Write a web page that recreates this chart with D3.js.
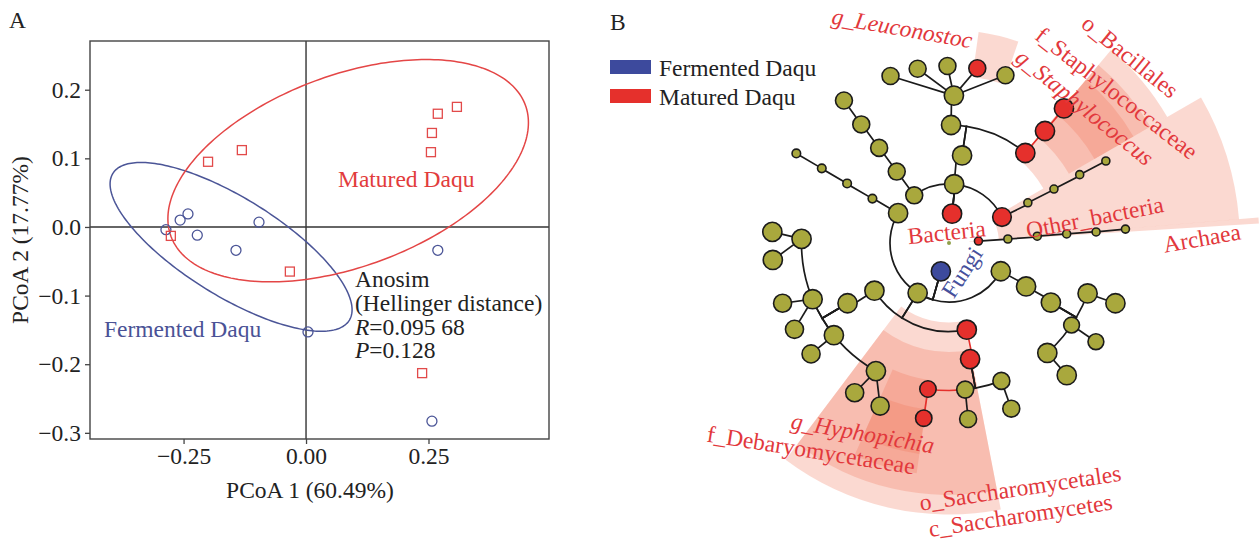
<!DOCTYPE html>
<html>
<head>
<meta charset="utf-8">
<script src="https://cdn.jsdelivr.net/npm/d3@7"></script>
<style>
  body { margin: 0; background: #fff; }
  text { font-family: "Liberation Serif", "Times New Roman", serif; }
</style>
</head>
<body>
<svg id="fig" width="1260" height="542"></svg>
<script>
// ---------- panel A: PCoA ----------
const fermentedX = [-0.286, -0.257, -0.241, -0.222, -0.143, -0.096, 0.004, 0.269, 0.257];
const fermentedY = [-0.004, 0.010, 0.019, -0.012, -0.034, 0.007, -0.153, -0.034, -0.283];
const maturedX = [-0.276, -0.200, -0.131, -0.033, 0.237, 0.255, 0.257, 0.269, 0.308];
const maturedY = [-0.013, 0.095, 0.112, -0.065, -0.213, 0.109, 0.137, 0.165, 0.175];

// confidence ellipses: centre, half extent along x / y, correlation
const ellipseCX = [-0.153, 0.086];
const ellipseCY = [-0.029, 0.082];
const ellipseSX = [0.247, 0.368];
const ellipseSY = [0.123, 0.162];
const ellipseR = [-0.745, 0.432];

const xTicks = [-0.25, 0, 0.25];
const yTicks = [-0.3, -0.2, -0.1, 0, 0.1, 0.2];
// [italic prefix, rest]
const anosimLines = [["", "Anosim"], ["", "(Hellinger distance)"], ["R", "=0.095 68"], ["P", "=0.128"]];

// ---------- panel B: cladogram ----------
const groupNames = ["Fermented Daqu", "Matured Daqu"];
// [id, parent, level, angle (deg, clockwise from top), group, size]
const cladeNodes = [
  ["root", null, 0, 0, "n", 0],
  ["Bacteria", "root", 1, 6, "M", 3],
  ["Fungi", "root", 1, 196, "F", 3],
  ["Archaea", "root", 1, 86.2, "M", 1],
  // Bacteria
  ["b1", "Bacteria", 2, 5, "n", 3],
  ["b1c", "b1", 3, 8.5, "n", 3],
  ["b1o1", "b1c", 4, 1, "n", 3],
  ["b1f1", "b1o1", 5, 1.9, "n", 3],
  ["b1g1", "b1f1", 6, -19.3, "n", 2.6],
  ["b1g2", "b1f1", 6, -10.2, "n", 2.6],
  ["b1g3", "b1f1", 6, -0.5, "n", 2.6],
  ["g_Leuconostoc", "b1f1", 6, 9.2, "M", 2.6],
  ["b1g5", "b1f1", 6, 18.6, "n", 2.6],
  ["o_Bacillales", "b1c", 4, 40.3, "M", 3],
  ["f_Staphylococcaceae", "o_Bacillales", 5, 40.6, "M", 3],
  ["g_Staphylococcus", "f_Staphylococcaceae", 6, 40.5, "M", 3],
  ["b2", "Bacteria", 2, -36.1, "n", 2.6],
  ["b2c", "b2", 3, -36.2, "n", 2.6],
  ["b2o", "b2c", 4, -36.3, "n", 2.6],
  ["b2f", "b2o", 5, -36.5, "n", 2.6],
  ["b2g", "b2f", 6, -36.4, "n", 2.6],
  ["Other_bacteria", "Bacteria", 2, 63.9, "M", 2.9],
  ["b3c", "Other_bacteria", 3, 63, "n", 1],
  ["b3o", "b3c", 4, 62.8, "n", 1],
  ["b3f", "b3o", 5, 62.4, "n", 1],
  ["b3g", "b3f", 6, 62.4, "n", 1],
  // Archaea
  ["a2", "Archaea", 2, 86.1, "n", 1],
  ["a3", "a2", 3, 85.6, "n", 1],
  ["a4", "a3", 4, 85.6, "n", 1],
  ["a5", "a4", 5, 85.7, "n", 1],
  ["a6", "a5", 6, 85.5, "n", 1],
  // Fungi
  ["f1", "Fungi", 2, 300.4, "n", 3],
  ["f1c", "f1", 3, 300.1, "n", 1.1],
  ["f1o", "f1c", 4, 300.3, "n", 1.1],
  ["f1f", "f1o", 5, 300.4, "n", 1.1],
  ["f1g", "f1f", 6, 300.4, "n", 1.1],
  ["f2", "Fungi", 2, 212.1, "n", 3],
  ["f2c1", "f2", 3, 237.4, "n", 3],
  ["f2o1", "f2c1", 4, 239.3, "n", 3],
  ["f2f1", "f2o1", 5, 271.6, "n", 3],
  ["f2g1", "f2f1", 6, 273.6, "n", 3],
  ["f2g2", "f2f1", 6, 264.5, "n", 3],
  ["f2f2", "f2o1", 5, 247.6, "n", 3],
  ["f2g3", "f2f2", 6, 250.1, "n", 2.8],
  ["f2g4", "f2f2", 6, 240.8, "n", 2.8],
  ["f2f3", "f2o1", 5, 231.3, "n", 3],
  ["f2g5", "f2f3", 6, 231.2, "n", 2.8],
  ["f2f4", "f2o1", 5, 209.7, "n", 3],
  ["f2g6", "f2f4", 6, 212.2, "n", 2.8],
  ["f2g7", "f2f4", 6, 202.9, "n", 2.8],
  ["c_Saccharomycetes", "f2", 3, 168.4, "M", 3],
  ["o_Saccharomycetales", "c_Saccharomycetes", 4, 169.7, "M", 3],
  ["f2f5", "o_Saccharomycetales", 5, 159.2, "n", 2.6],
  ["f2g8", "f2f5", 6, 159.4, "n", 2.6],
  ["f2f6", "o_Saccharomycetales", 5, 173.7, "n", 2.6],
  ["f2g9", "f2f6", 6, 173.8, "n", 2.6],
  ["f_Debaryomycetaceae", "o_Saccharomycetales", 5, 188.2, "M", 2.5],
  ["g_Hyphopichia", "f_Debaryomycetaceae", 6, 188.2, "M", 2.5],
  ["f3", "Fungi", 2, 118.6, "n", 3],
  ["f3c", "f3", 3, 119.4, "n", 3],
  ["f3o", "f3c", 4, 120.3, "n", 3],
  ["f3f1", "f3o", 5, 110, "n", 3],
  ["f3g1", "f3f1", 6, 109.9, "n", 3],
  ["f3f2", "f3o", 5, 123.8, "n", 2.4],
  ["f3g2", "f3f2", 6, 123.9, "n", 2.4],
  ["f3f3", "f3o", 5, 138.2, "n", 3],
  ["f3g3", "f3f3", 6, 138.3, "n", 3]
];

// highlighted clades: [name, level, start angle, end angle]
const highlightClades = [
  ["Archaea", 1, 85.3, 86.4],
  ["Other_bacteria", 2, 60, 85.3],
  ["o_Bacillales", 4, 40, 60],
  ["f_Staphylococcaceae", 5, 40, 60],
  ["g_Staphylococcus", 6, 40, 60],
  ["g_Leuconostoc", 6, 8, 19],
  ["c_Saccharomycetes", 3, 169, 217],
  ["o_Saccharomycetales", 4, 169, 217],
  ["f_Debaryomycetaceae", 5, 188, 204],
  ["g_Hyphopichia", 6, 188, 204]
];

// clade labels: [text, radius, angle, rotation, italic, group]
const cladeLabels = [
  ["Bacteria", 11, -13, -6, false, "M"],
  ["Fungi", 32, 156, -57, false, "F"],
  ["Other_bacteria", 148, 80, -11, false, "M"],
  ["Archaea", 253, 88.9, -10, false, "M"],
  ["g_Leuconostoc", 220, -12.3, 10, true, "M"],
  ["g_Staphylococcus", 192, 45, 39, true, "M"],
  ["f_Staphylococcaceae", 225, 48.2, 38, false, "M"],
  ["o_Bacillales", 260, 44.2, 39, false, "M"],
  ["g_Hyphopichia", 208.6, 204.4, 10, true, "M"],
  ["f_Debaryomycetaceae", 248.8, 213.7, 9, false, "M"],
  ["o_Saccharomycetales", 255, 163.8, -8.5, false, "M"],
  ["c_Saccharomycetes", 281.5, 165.3, -8.5, false, "M"]
];

const FS = "23.5px";
const svg = d3.select("#fig");

// ======== panel A ========
const box = {left: 90, right: 549, top: 41, bottom: 439};
const x = d3.scaleLinear().domain([-0.441, 0.496]).range([box.left, box.right]);
const y = d3.scaleLinear().domain([-0.309, 0.271]).range([box.bottom, box.top]);

const gA = svg.append("g");

gA.append("text").attr("x", 9).attr("y", 28).attr("font-size", FS).attr("fill", "#222").text("A");

// zero lines
gA.append("line").attr("x1", x(0)).attr("x2", x(0)).attr("y1", box.top).attr("y2", box.bottom)
  .attr("stroke", "#333").attr("stroke-width", 1.4);
gA.append("line").attr("x1", box.left).attr("x2", box.right).attr("y1", y(0)).attr("y2", y(0))
  .attr("stroke", "#333").attr("stroke-width", 1.4);

// ellipses
const ellColor = ["#4b5597", "#e44646"];
ellipseCX.forEach((cx, i) => {
  const phi = Math.asin(ellipseR[i]);
  const ts = d3.range(0, 2 * Math.PI, Math.PI / 120);
  const line = d3.line()
    .x(t => x(cx + ellipseSX[i] * Math.cos(t)))
    .y(t => y(ellipseCY[i] + ellipseSY[i] * Math.sin(t + phi)))
    .curve(d3.curveLinearClosed);
  gA.append("path").attr("d", line(ts)).attr("fill", "none")
    .attr("stroke", ellColor[i]).attr("stroke-width", 1.5);
});

// points
gA.selectAll(".ferm").data(d3.zip(fermentedX, fermentedY)).enter().append("circle")
  .attr("cx", d => x(d[0])).attr("cy", d => y(d[1])).attr("r", 5)
  .attr("fill", "none").attr("stroke", "#4b5597").attr("stroke-width", 1.3);
gA.selectAll(".mat").data(d3.zip(maturedX, maturedY)).enter().append("rect")
  .attr("x", d => x(d[0]) - 4.5).attr("y", d => y(d[1]) - 4.5).attr("width", 9).attr("height", 9)
  .attr("fill", "none").attr("stroke", "#e24a4a").attr("stroke-width", 1.3);

// frame + axes
gA.append("rect").attr("x", box.left).attr("y", box.top)
  .attr("width", box.right - box.left).attr("height", box.bottom - box.top)
  .attr("fill", "none").attr("stroke", "#444").attr("stroke-width", 1.4);

const yAxis = gA.append("g").attr("transform", `translate(${box.left},0)`)
  .call(d3.axisLeft(y).tickValues(yTicks).tickFormat(d3.format(".1f")).tickSize(5).tickPadding(4));
const xAxis = gA.append("g").attr("transform", `translate(0,${box.bottom})`)
  .call(d3.axisBottom(x).tickValues(xTicks).tickFormat(d3.format(".2f")).tickSize(5).tickPadding(3));
[xAxis, yAxis].forEach(ax => {
  ax.select(".domain").remove();
  ax.selectAll("line").attr("stroke", "#444").attr("stroke-width", 1.3);
  ax.selectAll("text").attr("font-size", FS).attr("fill", "#222")
    .attr("font-family", '"Liberation Serif", "Times New Roman", serif');
});

gA.append("text").attr("x", 310).attr("y", 498).attr("text-anchor", "middle")
  .attr("font-size", FS).attr("fill", "#222").text("PCoA 1 (60.49%)");
gA.append("text").attr("transform", "translate(28,240) rotate(-90)").attr("text-anchor", "middle")
  .attr("font-size", FS).attr("fill", "#222").text("PCoA 2 (17.77%)");

gA.append("text").attr("x", 338).attr("y", 187).attr("font-size", FS).attr("fill", "#e23c3c").text("Matured Daqu");
gA.append("text").attr("x", 104).attr("y", 337).attr("font-size", FS).attr("fill", "#4a5296").text("Fermented Daqu");

// Anosim block: italic letter and the rest as separate texts
const anosimY = [287, 311, 335, 358];
anosimLines.forEach((s, i) => {
  let xx = 355;
  if (s[0]) {
    const it = gA.append("text").attr("x", xx).attr("y", anosimY[i]).attr("font-size", FS)
      .attr("font-style", "italic").attr("fill", "#222").text(s[0]);
    xx += it.node().getComputedTextLength();
  }
  gA.append("text").attr("x", xx).attr("y", anosimY[i]).attr("font-size", FS)
    .attr("fill", "#222").text(s[1]);
});

// ======== panel B ========
const gB = svg.append("g");
const C = {x: 949, y: 243};
const ring = d3.scaleLinear().domain([0, 6]).range([0, 177]);
const ang = d3.scaleLinear().domain([0, 360]).range([-Math.PI / 2, 1.5 * Math.PI]); // screen angle
const rad = d3.scaleLinear().domain([0, 360]).range([0, 2 * Math.PI]);             // d3.arc angle
const nodeR = d3.scaleLinear().domain([1, 3]).range([4, 9.6]);
const wedgeOuter = d3.scaleLinear().domain([1, 6]).range([310.5, 213]);
const colorOf = {n: "#a9a83d", M: "#e5302c", F: "#3d4a9d"};
const textColor = {M: "#e2383c", F: "#46509c"};

function polar(r, deg) {
  const a = ang(deg);
  return [C.x + r * Math.cos(a), C.y + r * Math.sin(a)];
}

gB.append("text").attr("x", 610).attr("y", 30).attr("font-size", FS).attr("fill", "#222").text("B");

// legend
groupNames.forEach((g, i) => {
  gB.append("rect").attr("x", 610).attr("y", 60 + i * 29).attr("width", 41).attr("height", 14)
    .attr("fill", i === 0 ? colorOf.F : colorOf.M);
  gB.append("text").attr("x", 659).attr("y", 67.5 + i * 29.5).attr("dominant-baseline", "central")
    .attr("font-size", FS).attr("fill", "#222").text(g);
});

// shaded clades
const wedge = d3.arc();
gB.append("g").attr("transform", `translate(${C.x},${C.y})`)
  .selectAll("path").data(highlightClades).enter().append("path")
  .attr("d", d => wedge({
    innerRadius: ring(d[1]) - 9,
    outerRadius: wedgeOuter(d[1]),
    startAngle: rad(d[2]),
    endAngle: rad(d[3])
  }))
  .attr("fill", "rgb(240,118,88)").attr("fill-opacity", 0.28);

// tree
const nodes = cladeNodes.map(r => ({id: r[0], parent: r[1], level: r[2], angle: r[3], group: r[4], size: r[5]}));
const byId = new Map(nodes.map(d => [d.id, d]));
const edges = nodes.filter(d => d.parent && d.parent !== "root").map(d => ({p: byId.get(d.parent), c: d}));

function edgePath(e) {
  const p = e.p, c = e.c;
  const path = d3.path();
  const [x0, y0] = polar(ring(p.level), p.angle);
  path.moveTo(x0, y0);
  if (p.level >= 5) {
    const [x1, y1] = polar(ring(c.level), c.angle);
    path.lineTo(x1, y1);
  } else {
    const [xe, ye] = polar(ring(c.level), p.angle);
    path.lineTo(xe, ye);
    if (Math.abs(c.angle - p.angle) > 0.05) {
      path.arc(C.x, C.y, ring(c.level), ang(p.angle), ang(c.angle), c.angle < p.angle);
    }
  }
  return path.toString();
}
const isRed = e => e.p.group === "M" && e.c.group === "M" && e.p.level >= 3;
const edgeG = gB.append("g").attr("fill", "none").attr("stroke-width", 1.7);
edgeG.selectAll(".red").data(edges.filter(isRed)).enter().append("path")
  .attr("d", edgePath).attr("stroke", colorOf.M);
edgeG.selectAll(".blk").data(edges.filter(e => !isRed(e))).enter().append("path")
  .attr("d", edgePath).attr("stroke", "#1b1b1b");

gB.selectAll(".node").data(nodes.filter(d => d.level > 0)).enter().append("circle")
  .attr("cx", d => polar(ring(d.level), d.angle)[0])
  .attr("cy", d => polar(ring(d.level), d.angle)[1])
  .attr("r", d => nodeR(d.size))
  .attr("fill", d => colorOf[d.group])
  .attr("stroke", "#1b1b1b").attr("stroke-width", 1.6);
gB.append("circle").attr("cx", C.x).attr("cy", C.y).attr("r", 2).attr("fill", "#8fa04a");

// labels
gB.selectAll(".lab").data(cladeLabels).enter().append("text")
  .attr("transform", d => {
    const [lx, ly] = polar(d[1], d[2]);
    return `translate(${lx},${ly}) rotate(${d[3]})`;
  })
  .attr("text-anchor", "middle").attr("dominant-baseline", "central")
  .attr("font-size", FS)
  .attr("font-style", d => d[4] ? "italic" : "normal")
  .attr("fill", d => textColor[d[5]])
  .text(d => d[0]);
</script>
</body>
</html>
